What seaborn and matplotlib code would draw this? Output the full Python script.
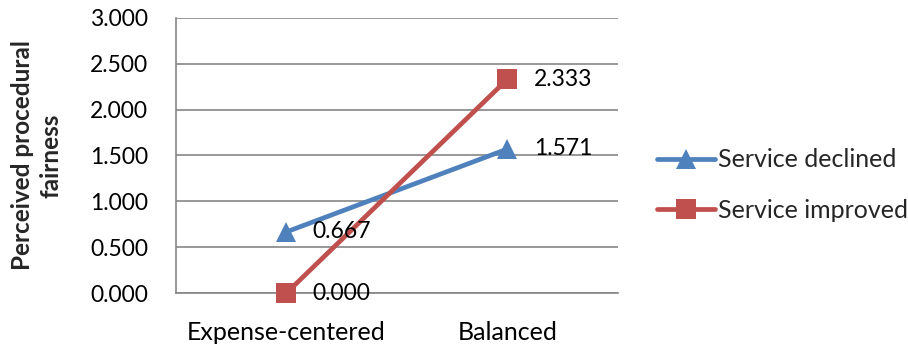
import matplotlib
matplotlib.use("Agg")
import matplotlib.pyplot as plt
import seaborn as sns
import pandas as pd
from matplotlib.ticker import FormatStrFormatter

# Data
conditions = ["Expense-centered", "Balanced"]
service_declined = [0.667, 1.571]
service_improved = [0.000, 2.333]
series_names = ["Service declined", "Service improved"]
y_ticks = [0.0, 0.5, 1.0, 1.5, 2.0, 2.5, 3.0]

df = pd.DataFrame({
    "condition": conditions * 2,
    "pos": [0, 1, 0, 1],
    "fairness": service_declined + service_improved,
    "group": [series_names[0]] * 2 + [series_names[1]] * 2,
})

sns.set_theme(style="white")
plt.rcParams["font.family"] = ["Lato", "DejaVu Sans"]

fig = plt.figure(figsize=(9.08, 3.54), dpi=100)
ax = fig.add_axes([0.1938, 0.1723, 0.6806 - 0.1938, 0.9492 - 0.1723])

palette = {series_names[0]: "#4F81BD", series_names[1]: "#C0504D"}
markers = {series_names[0]: "^", series_names[1]: "s"}

sns.lineplot(data=df, x="pos", y="fairness", hue="group", style="group",
             palette=palette, markers=markers, dashes=False, linewidth=3.4,
             markersize=14, markeredgewidth=0, ax=ax, legend=True, zorder=3,
             clip_on=False)

# Value labels to the right of each point
for vals in (service_declined, service_improved):
    for i, v in enumerate(vals):
        ax.annotate(f"{v:.3f}", (i, v), xytext=(19, 0), textcoords="offset points",
                    ha="left", va="center", fontsize=16.5, color="black", zorder=5)

ax.set_xlim(-0.5, 1.5)
ax.set_ylim(0, 3.0)
ax.set_yticks(y_ticks)
ax.yaxis.set_major_formatter(FormatStrFormatter("%.3f"))
ax.set_xticks([0, 1])
ax.set_xticklabels(conditions, fontsize=18)
ax.set_xlabel("")
ax.set_ylabel("Perceived procedural\nfairness", fontsize=17.5, fontweight="bold",
              labelpad=20, linespacing=1.3)
ax.tick_params(axis="both", length=0, colors="black")
ax.tick_params(axis="y", pad=20, labelsize=16.5)
ax.tick_params(axis="x", pad=20)

ax.grid(axis="y", color="#868686", linewidth=1.2)
ax.grid(axis="x", visible=False)
for side in ("top", "right"):
    ax.spines[side].set_visible(False)
for side in ("left", "bottom"):
    ax.spines[side].set_color("#868686")
    ax.spines[side].set_linewidth(1.2)

handles, labels = ax.get_legend_handles_labels()
ax.get_legend().remove()
fig.legend(handles, labels, loc="center left", bbox_to_anchor=(657 / 908, 1 - 185 / 354),
           frameon=False, fontsize=18, handlelength=2.3, handletextpad=0.15,
           labelspacing=1.1, borderpad=0, borderaxespad=0)

fig.savefig("out.png", dpi=100)
